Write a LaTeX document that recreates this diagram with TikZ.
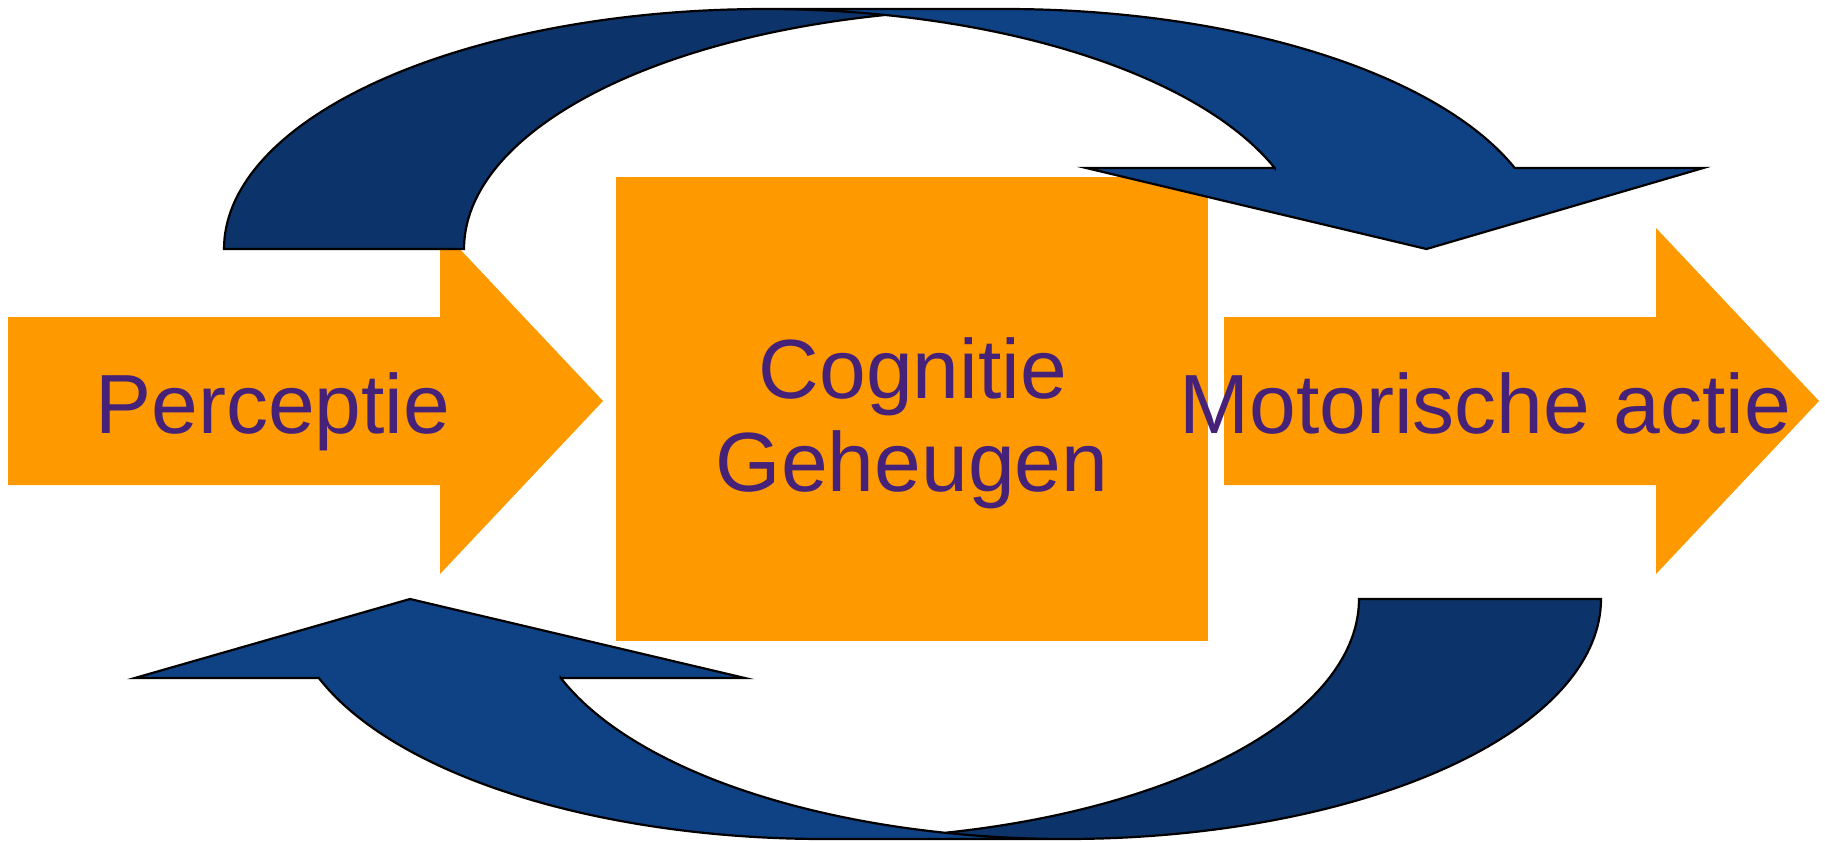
\documentclass[tikz,border=0pt]{standalone}
\usepackage{fontspec}
\setmainfont{Liberation Sans}
\definecolor{orng}{RGB}{255,153,0}
\definecolor{txtpurple}{RGB}{70,33,120}
\definecolor{bluefront}{RGB}{14,66,133}
\definecolor{blueback}{RGB}{13,52,106}
% curved down arrow (OOXML curvedDownArrow), local coords y downward
% #1 w, #2 h, #3 band thickness, #4 head width, #5 head length
\newcommand\cdarrow[5]{%
 \pgfmathsetmacro\cdwR{#1/2-(#3+#4)/4}%
 \pgfmathsetmacro\cdcB{\cdwR+#3}%
 \pgfmathsetmacro\cdphi{asin(#5/#2)}%
 \pgfmathsetmacro\cddx{\cdwR*cos(\cdphi)}%
 \pgfmathsetmacro\cdxfive{\cdwR+\cddx}%
 \pgfmathsetmacro\cdxseven{\cdcB+\cddx}%
 \pgfmathsetmacro\cddh{(#4-#3)/2}%
 \pgfmathsetmacro\cdxfour{\cdxfive-\cddh}%
 \pgfmathsetmacro\cdxeight{\cdxseven+\cddh}%
 \pgfmathsetmacro\cdxsix{#1-#4/2}%
 \pgfmathsetmacro\cdyone{#2-#5}%
 \pgfmathsetmacro\cdthI{acos((#3/2)/\cdwR)}%
 \pgfmathsetmacro\cdthII{180-\cdthI}%
 \fill[bluefront] (\cdxfive,\cdyone)
   -- plot[domain=\cdphi:90, samples=70] ({\cdwR+\cdwR*cos(\x)},{#2-#2*sin(\x)})
   -- plot[domain=90:\cdphi, samples=70] ({\cdcB+\cdwR*cos(\x)},{#2-#2*sin(\x)})
   -- (\cdxeight,\cdyone) -- (\cdxsix,#2) -- (\cdxfour,\cdyone) -- cycle;
 \fill[blueback] (0,#2)
   -- plot[domain=180:\cdthI, samples=90] ({\cdwR+\cdwR*cos(\x)},{#2-#2*sin(\x)})
   -- plot[domain=\cdthII:180, samples=70] ({\cdcB+\cdwR*cos(\x)},{#2-#2*sin(\x)})
   -- cycle;
 \draw[outline] plot[domain=\cdthII:180, samples=70] ({\cdcB+\cdwR*cos(\x)},{#2-#2*sin(\x)})
   -- (0,#2)
   -- plot[domain=180:90, samples=70] ({\cdwR+\cdwR*cos(\x)},{#2-#2*sin(\x)})
   -- plot[domain=90:\cdphi, samples=70] ({\cdcB+\cdwR*cos(\x)},{#2-#2*sin(\x)})
   -- (\cdxeight,\cdyone) -- (\cdxsix,#2) -- (\cdxfour,\cdyone) -- (\cdxfive,\cdyone)
   -- plot[domain=\cdphi:90, samples=70] ({\cdwR+\cdwR*cos(\x)},{#2-#2*sin(\x)});
}
\begin{document}
\begin{tikzpicture}[x=0.5pt,y=-0.5pt,
  outline/.style={draw=black, line width=1.1pt, line join=miter},
  orangeshape/.style={fill=orng},
  lbl/.style={text=txtpurple, inner sep=0pt, font=\fontsize{42}{46}\selectfont}]
\useasboundingbox[fill=white] (0,0) rectangle (1825,841);
% orange shapes
\fill[orangeshape] (8,317) -- (440,317) -- (440,228) -- (603,401) -- (440,574) -- (440,485) -- (8,485) -- cycle;
\fill[orangeshape] (1224,317) -- (1656,317) -- (1656,228) -- (1819,401) -- (1656,574) -- (1656,485) -- (1224,485) -- cycle;
\fill[orangeshape] (616,177) rectangle (1208,641);
% blue curved arrows
\begin{scope}[shift={(224,9)}]
  \cdarrow{1511}{240}{240}{617}{81}
\end{scope}
\begin{scope}[shift={(1601,839)}, rotate=180]
  \cdarrow{1496}{240}{242}{610}{79}
\end{scope}
% labels
\node[lbl, anchor=base west] (perc) at (95,433) {Perceptie};
\node[lbl, anchor=base] (cog) at (913,398) {Cognitie};
\node[lbl, anchor=base] (geh) at (912,491) {Geheugen};
\node[lbl, anchor=base west] (mot) at (1179,433) {Motorische actie};
\end{tikzpicture}
\end{document}
